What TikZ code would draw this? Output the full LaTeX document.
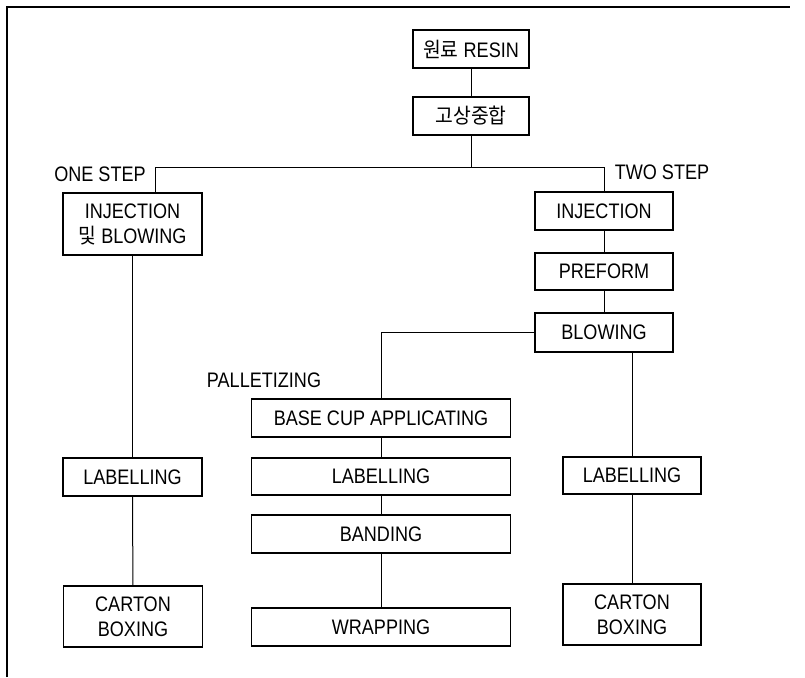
\documentclass[tikz,border=0pt]{standalone}
\usepackage{fontspec}
\setmainfont{Liberation Sans}[FakeStretch=0.86]
\newfontfamily\kr{Noto Sans CJK KR}[FakeStretch=0.92]
\usetikzlibrary{positioning}
\tikzset{
  stepbox/.style={draw, line width=1.3pt, align=center, inner sep=0pt,
                  font=\fontsize{21}{25}\selectfont},
  steplabel/.style={inner sep=0pt, font=\fontsize{21}{25}\selectfont},
  link/.style={line width=1pt},
}

\begin{document}
\begin{tikzpicture}[x=1pt, y=-1pt]
    \useasboundingbox (0,0) rectangle (805,677);
    % frame
    \draw[line width=1.1pt] (7,677) -- (7,7) -- (790,7);
    % top
    \node[stepbox, minimum width=116pt, minimum height=38pt] (resin) at (471,49)  {{\kr 원료} RESIN};
    \node[stepbox, minimum width=116pt, minimum height=38pt] (ssp)   at (471,116) {\kr 고상중합};
    \coordinate (split) at (471,167);
    % one step
    \node[steplabel] (onestep) at (100,174) {ONE STEP};
    \node[stepbox, minimum width=139pt, minimum height=62pt] (ib)   at (132.5,224) {INJECTION\\{\kr 및} BLOWING};
    \node[stepbox, minimum width=139pt, minimum height=38pt] (llab) at (132.5,477) {LABELLING};
    \node[stepbox, minimum width=139pt, minimum height=61pt] (lbox) at (133,616.5) {CARTON\\BOXING};
    \coordinate (oneturn) at (155,167);
    % two step
    \node[steplabel] (twostep) at (662,172) {TWO STEP};
    \node[stepbox, minimum width=138pt, minimum height=38pt] (inj)  at (604,211)   {INJECTION};
    \node[stepbox, minimum width=138pt, minimum height=37pt] (pre)  at (604,271.5) {PREFORM};
    \node[stepbox, minimum width=138pt, minimum height=39pt] (blow) at (604,332.5) {BLOWING};
    \node[stepbox, minimum width=138pt, minimum height=37pt] (rlab) at (632,475.5) {LABELLING};
    \node[stepbox, minimum width=138pt, minimum height=61pt] (rbox) at (632,614.5) {CARTON\\BOXING};
    % palletizing
    \node[steplabel] (pallet) at (264,380) {PALLETIZING};
    \node[stepbox, minimum width=259pt, minimum height=38pt] (bcup) at (381,418)   {BASE CUP APPLICATING};
    \node[stepbox, minimum width=259pt, minimum height=37pt] (mlab) at (381,476.5) {LABELLING};
    \node[stepbox, minimum width=259pt, minimum height=38pt] (band) at (381,534)   {BANDING};
    \node[stepbox, minimum width=259pt, minimum height=38pt] (wrap) at (381,627)   {WRAPPING};
    % links
    \draw[link] (resin) -- (ssp);
    \draw[link] (ssp) -- (split);
    \draw[link] (ib.north -| oneturn) -- (oneturn) -- (oneturn -| inj) -- (inj);
    \draw[link] (ib) -- (llab);
    \draw[link] (llab) -- (lbox);
    \draw[link] (inj) -- (pre);
    \draw[link] (pre) -- (blow);
    \draw[link] (blow.west) -| (bcup.north);
    \draw[link] (blow.south -| rlab) -- (rlab);
    \draw[link] (rlab) -- (rbox);
    \draw[link] (bcup) -- (mlab);
    \draw[link] (mlab) -- (band);
    \draw[link] (band) -- (wrap);
\end{tikzpicture}
\end{document}
